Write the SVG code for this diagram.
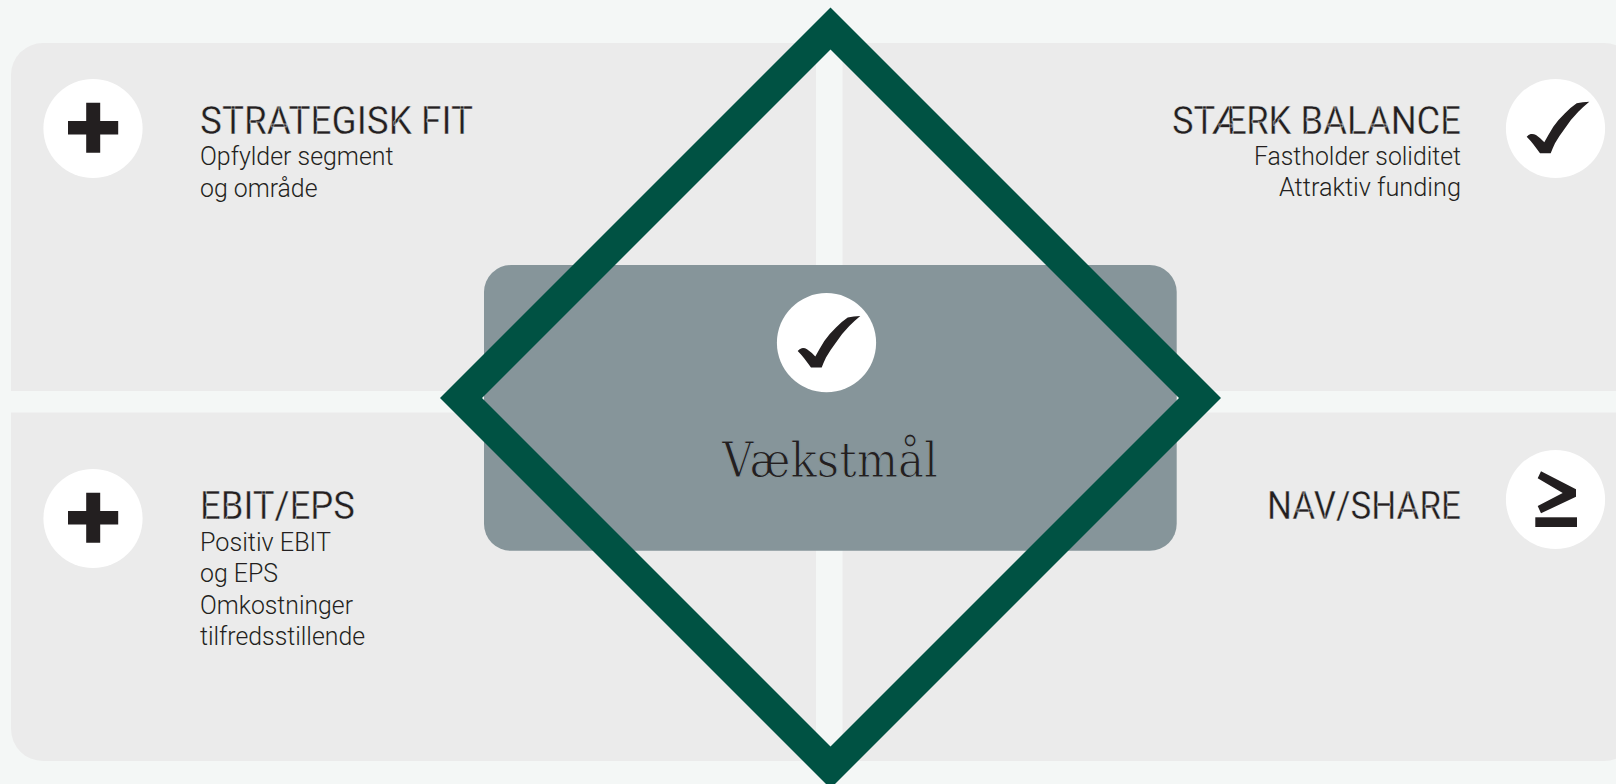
<svg xmlns="http://www.w3.org/2000/svg" width="1616" height="784" viewBox="0 0 1616 784">
<defs>
<path id="check" d="M-28.8,8.2 Q-27,6 -24.8,5.5 Q-22,5 -19.5,6.5 Q-15,9.5 -11.2,13.8 Q-7,6 -2.2,-1.8 Q3,-9 9.5,-15.2 Q15,-21 21.2,-25.2 Q27,-26.5 33.8,-26.8 Q28,-22 22.8,-16.8 Q15,-9 9.5,-0.2 Q4,7 -0.5,14.8 Q-3,20 -4.8,24.8 L-15.5,24.8 Q-19,20 -22.2,15.8 Q-25,12 -28.8,8.2 Z"/>
<path id="plus" d="M-6.8,-25.8 H7.2 V-7.5 H25.2 V6 H7.2 V24.2 H-6.8 V6 H-25 V-7.5 H-6.8 Z"/>
</defs>
<style>
.panel{fill:#ebebeb}
.disc{fill:#fff}
.glyph{fill:#231f20}
text{fill:#231f20;font-family:"Roboto","Liberation Sans",sans-serif}
.h{font-size:39px;font-weight:400;stroke:#ebebeb;stroke-width:0.4px}
.s{font-size:25.5px;font-weight:300}
.e{text-anchor:end}
.v{font-family:"DejaVu Serif",serif;font-size:48px;stroke:#86959a;stroke-width:1.1px}
</style>
<rect width="1616" height="784" fill="#f4f7f6"/>
<g id="panel-strategisk-fit">
<path class="panel" d="M11,391 V75 A32,32 0 0 1 43,43 H816 V391 Z"/>
<circle class="disc" cx="93" cy="128.5" r="49.6"/>
<use class="glyph" href="#plus" x="93" y="128.5"/>
<text class="h" x="200" y="134" textLength="273" lengthAdjust="spacingAndGlyphs">STRATEGISK FIT</text>
<text class="s" x="200" y="165" textLength="193.5" lengthAdjust="spacingAndGlyphs">Opfylder segment</text>
<text class="s" x="200" y="197" textLength="117.5" lengthAdjust="spacingAndGlyphs">og område</text>
</g>
<g id="panel-staerk-balance">
<path class="panel" d="M842.5,43 H1604 A32,32 0 0 1 1636,75 V391 H842.5 Z"/>
<circle class="disc" cx="1555.5" cy="128.5" r="49.6"/>
<use class="glyph" href="#check" x="1555.5" y="128.5"/>
<text class="h e" x="1461" y="133.5" textLength="289" lengthAdjust="spacingAndGlyphs">STÆRK BALANCE</text>
<text class="s e" x="1461" y="164.5" textLength="207" lengthAdjust="spacingAndGlyphs">Fastholder soliditet</text>
<text class="s e" x="1461" y="196" textLength="182" lengthAdjust="spacingAndGlyphs">Attraktiv funding</text>
</g>
<g id="panel-ebit-eps">
<path class="panel" d="M11,412.5 H816 V761 H43 A32,32 0 0 1 11,729 Z"/>
<circle class="disc" cx="93" cy="518.5" r="49.6"/>
<use class="glyph" href="#plus" x="93" y="518.5"/>
<text class="h" x="200" y="519" textLength="155" lengthAdjust="spacingAndGlyphs">EBIT/EPS</text>
<text class="s" x="200" y="550.5" textLength="131" lengthAdjust="spacingAndGlyphs">Positiv EBIT</text>
<text class="s" x="200" y="582" textLength="78" lengthAdjust="spacingAndGlyphs">og EPS</text>
<text class="s" x="200" y="613.5" textLength="153" lengthAdjust="spacingAndGlyphs">Omkostninger</text>
<text class="s" x="200" y="645" textLength="165" lengthAdjust="spacingAndGlyphs">tilfredsstillende</text>
</g>
<g id="panel-nav-share">
<path class="panel" d="M842.5,412.5 H1636 V729 A32,32 0 0 1 1604,761 H842.5 Z"/>
<circle class="disc" cx="1555.5" cy="499.5" r="49.6"/>
<path class="glyph" d="M1541,471.3 L1576,489.3 V496.7 L1541,513.3 L1537.7,506 L1562.7,493 L1537.7,478.3 Z"/>
<rect class="glyph" x="1535.3" y="517.3" width="41.7" height="9.7"/>
<text class="h e" x="1461" y="519.3" textLength="194" lengthAdjust="spacingAndGlyphs">NAV/SHARE</text>
</g>
<g id="center-vaekstmaal">
<rect x="484" y="265" width="692.7" height="285.8" rx="27" fill="#86959a"/>
<circle class="disc" cx="826.5" cy="342.7" r="49.6"/>
<use class="glyph" href="#check" x="826.5" y="342.7"/>
<text class="v" x="722" y="476.5" textLength="216" lengthAdjust="spacingAndGlyphs">Vækstmål</text>
</g>
<g id="diamond">
<path fill="#005243" fill-rule="evenodd" d="M830.5,7.5 L1221,398 L830.5,788.5 L440,398 Z M830.5,49.5 L482,398 L830.5,746.5 L1179,398 Z"/>
</g>
</svg>
